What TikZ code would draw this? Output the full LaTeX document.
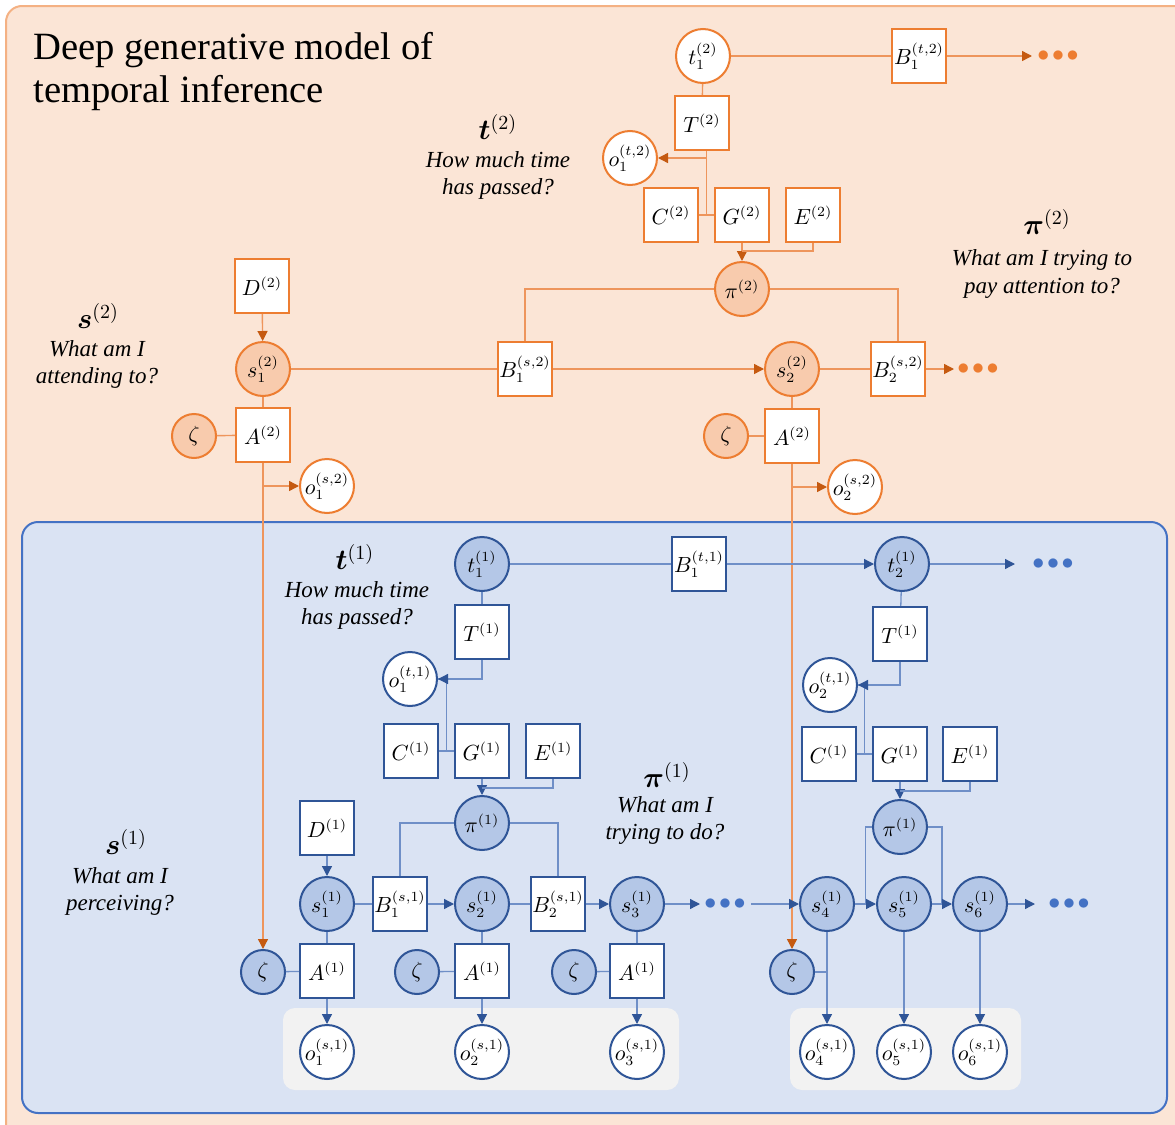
\documentclass[tikz,border=0pt]{standalone}
\usepackage{amsmath,amssymb}
\usepackage{fontspec}
\setmainfont{Liberation Serif}
\usepackage{tikz}
\usetikzlibrary{arrows.meta,calc,positioning}

\definecolor{pagetwo}{HTML}{FBE5D6}
\definecolor{frametwo}{HTML}{F4B183}
\definecolor{edgetwo}{HTML}{ED7D31}
\definecolor{filltwo}{HTML}{F8CBAD}
\definecolor{linktwo}{HTML}{EE955C}
\definecolor{tiptwo}{HTML}{C55A11}
\definecolor{pageone}{HTML}{DAE3F3}
\definecolor{frameone}{HTML}{4472C4}
\definecolor{edgeone}{HTML}{2F5597}
\definecolor{fillone}{HTML}{B4C7E7}
\definecolor{linkone}{HTML}{6F8FC7}
\definecolor{panel}{HTML}{F2F2F2}

\newcommand{\moredots}{${\bullet}\mkern2mu{\bullet}\mkern2mu{\bullet}$}

\begin{document}
\begin{tikzpicture}[
    x=0.5pt, y=-0.5pt,
    lbl/.style={font=\fontsize{10.5}{12}\selectfont, inner sep=0},
    boxtwo/.style={rectangle, draw=edgetwo, fill=white, line width=1pt, minimum size=27pt, lbl},
    vartwo/.style={circle, draw=edgetwo, fill=filltwo, line width=1pt, minimum size=27pt, lbl},
    obstwo/.style={vartwo, fill=white},
    zetatwo/.style={vartwo, minimum size=22pt},
    boxone/.style={rectangle, draw=edgeone, fill=white, line width=1pt, minimum size=27pt, lbl},
    varone/.style={circle, draw=edgeone, fill=fillone, line width=1pt, minimum size=27pt, lbl},
    obsone/.style={varone, fill=white},
    zetaone/.style={varone, minimum size=22pt},
    wiretwo/.style={draw=linktwo, line width=0.7pt},
    flowtwo/.style={wiretwo, -{Triangle[length=5pt, width=5pt, color=tiptwo]}},
    wireone/.style={draw=linkone, line width=0.65pt},
    flowone/.style={wireone, -{Triangle[length=5pt, width=5pt, color=edgeone]}},
    head/.style={font=\fontsize{14}{15}\selectfont, inner sep=0},
    ask/.style={font=\fontsize{11.5}{13.5}\selectfont\itshape, align=center, inner sep=0},
    moretwo/.style={font=\fontsize{13}{13}\selectfont, text=edgetwo, inner sep=0},
    moreone/.style={font=\fontsize{13}{13}\selectfont, text=frameone, inner sep=0}]

\useasboundingbox (0,0) rectangle (1175,1125);
\path[fill=pagetwo, draw=frametwo, line width=1pt, rounded corners=8pt] (6,6) rectangle (1200,1150);
\path[fill=pageone, draw=frameone, line width=1pt, rounded corners=8pt] (22,522) rectangle (1167,1113);
\path[fill=panel, rounded corners=6pt] (283,1008) rectangle (679,1090);
\path[fill=panel, rounded corners=6pt] (790,1008) rectangle (1021,1090);

\node[anchor=north west, align=left, inner sep=0, font=\fontsize{19.3}{21.5}\selectfont] (title) at (33,32) {Deep generative model of\\temporal inference};

\node[head] (hdt2) at (498,127) {$\boldsymbol{t}^{(2)}$};
\node[ask] (askt2) at (498,175) {How much time\\has passed?};
\node[head] (hdpi2) at (1047,222) {$\boldsymbol{\pi}^{(2)}$};
\node[ask] (askpi2) at (1042,274) {What am I trying to\\pay attention to?};
\node[head] (hds2) at (98,316) {$\boldsymbol{s}^{(2)}$};
\node[ask] (asks2) at (97,364) {What am I\\attending to?};
\node[head] (hdt1) at (355,557) {$\boldsymbol{t}^{(1)}$};
\node[ask] (askt1) at (357,605) {How much time\\has passed?};
\node[head] (hdpi1) at (667,775) {$\boldsymbol{\pi}^{(1)}$};
\node[ask] (askpi1) at (665,820) {What am I\\trying to do?};
\node[head] (hds1) at (126,842) {$\boldsymbol{s}^{(1)}$};
\node[ask] (asks1) at (120,891) {What am I\\perceiving?};

% level 2
\node[obstwo] (t12) at (703,56) {$t_1^{(2)}$};
\node[boxtwo] (B1t2) at (919,56) {$B_1^{(t,2)}$};
\coordinate (endt2) at (1032,56);
\node[moretwo] (moret2) at (1058,56) {\moredots};
\node[boxtwo] (T2) at (702,123) {$T^{(2)}$};
\node[obstwo] (o1t2) at (630,158) {$o_1^{(t,2)}$};
\node[boxtwo] (C2) at (671,215) {$C^{(2)}$};
\node[boxtwo] (G2) at (742,215) {$G^{(2)}$};
\node[boxtwo] (E2) at (813,215) {$E^{(2)}$};
\node[vartwo] (pi2) at (742,289) {$\pi^{(2)}$};
\node[boxtwo] (D2) at (262,286) {$D^{(2)}$};
\node[vartwo] (s12) at (263,369) {$s_1^{(2)}$};
\node[boxtwo] (B1s2) at (525,369) {$B_1^{(s,2)}$};
\node[vartwo] (s22) at (792,369) {$s_2^{(2)}$};
\node[boxtwo] (B2s2) at (898,369) {$B_2^{(s,2)}$};
\coordinate (ends2) at (954,369);
\node[moretwo] (mores2) at (978,369) {\moredots};
\node[boxtwo] (A12) at (263,435) {$A^{(2)}$};
\node[zetatwo] (z12) at (194,436) {$\zeta$};
\node[obstwo] (o1s2) at (327,486) {$o_1^{(s,2)}$};
\node[boxtwo] (A22) at (792,436) {$A^{(2)}$};
\node[zetatwo] (z22) at (726,436) {$\zeta$};
\node[obstwo] (o2s2) at (855,487) {$o_2^{(s,2)}$};

% level 1
\node[varone] (t11) at (482,564) {$t_1^{(1)}$};
\node[boxone] (B1t1) at (699,564) {$B_1^{(t,1)}$};
\node[varone] (t21) at (902,564) {$t_2^{(1)}$};
\coordinate (endt1) at (1015,564);
\node[moreone] (moret1) at (1053,564) {\moredots};
\node[boxone] (T11) at (482,632) {$T^{(1)}$};
\node[boxone] (T21) at (900,634) {$T^{(1)}$};
\node[obsone] (o1t1) at (410,679) {$o_1^{(t,1)}$};
\node[obsone] (o2t1) at (830,685) {$o_2^{(t,1)}$};
\node[boxone] (C11) at (411,751) {$C^{(1)}$};
\node[boxone] (G11) at (482,751) {$G^{(1)}$};
\node[boxone] (E11) at (553,751) {$E^{(1)}$};
\node[boxone] (C21) at (829,754) {$C^{(1)}$};
\node[boxone] (G21) at (900,754) {$G^{(1)}$};
\node[boxone] (E21) at (970,754) {$E^{(1)}$};
\node[varone] (pi11) at (482,823) {$\pi^{(1)}$};
\node[varone] (pi21) at (900,827) {$\pi^{(1)}$};
\node[boxone] (D1) at (327,828) {$D^{(1)}$};
\node[varone] (s11) at (327,904) {$s_1^{(1)}$};
\node[boxone] (B1s1) at (400,904) {$B_1^{(s,1)}$};
\node[varone] (s21) at (482,904) {$s_2^{(1)}$};
\node[boxone] (B2s1) at (558,904) {$B_2^{(s,1)}$};
\node[varone] (s31) at (637,904) {$s_3^{(1)}$};
\coordinate (ends31) at (700,904);
\node[moreone] (mores31) at (725,904) {\moredots};
\coordinate (begs41) at (751,904);
\node[varone] (s41) at (827,904) {$s_4^{(1)}$};
\node[varone] (s51) at (904,904) {$s_5^{(1)}$};
\node[varone] (s61) at (980,904) {$s_6^{(1)}$};
\coordinate (ends61) at (1035,904);
\node[moreone] (mores61) at (1069,904) {\moredots};
\node[boxone] (A11) at (327,971) {$A^{(1)}$};
\node[boxone] (A21) at (482,971) {$A^{(1)}$};
\node[boxone] (A31) at (637,971) {$A^{(1)}$};
\node[zetaone] (z11) at (263,972) {$\zeta$};
\node[zetaone] (z21) at (417,972) {$\zeta$};
\node[zetaone] (z31) at (574,972) {$\zeta$};
\node[zetaone] (z41) at (792,972) {$\zeta$};
\node[obsone] (o1s1) at (327,1052) {$o_1^{(s,1)}$};
\node[obsone] (o2s1) at (482,1052) {$o_2^{(s,1)}$};
\node[obsone] (o3s1) at (637,1052) {$o_3^{(s,1)}$};
\node[obsone] (o4s1) at (827,1052) {$o_4^{(s,1)}$};
\node[obsone] (o5s1) at (904,1052) {$o_5^{(s,1)}$};
\node[obsone] (o6s1) at (980,1052) {$o_6^{(s,1)}$};

\coordinate (cg2) at ($(C2.east)!0.5!(G2.west)$);
\coordinate (cg11) at ($(C11.east)!0.5!(G11.west)$);
\coordinate (cg21) at ($(C21.east)!0.5!(G21.west)$);
\coordinate (m45) at ($(s41.east)!0.5!(s51.west)$);
\coordinate (m56) at ($(s51.east)!0.5!(s61.west)$);

\path[wiretwo] (t12) -- (B1t2);
\path[flowtwo] (B1t2) -- (endt2);
\path[wiretwo] (t12) -- (T2);
\path[wiretwo] (C2) -- (G2);
\path[wiretwo] (cg2) -- (cg2 |- T2.south);
\path[flowtwo] (cg2 |- o1t2) -- (o1t2);
\path[flowtwo] (G2) -- (pi2);
\path[wiretwo] (E2.south) |- ([yshift=-4pt]G2.south);
\path[wiretwo] (pi2.west) -| (B1s2.north);
\path[wiretwo] (pi2.east) -| (B2s2.north);
\path[flowtwo] (D2) -- (s12);
\path[wiretwo] (s12) -- (B1s2);
\path[flowtwo] (B1s2) -- (s22);
\path[wiretwo] (s22) -- (B2s2);
\path[flowtwo] (B2s2) -- (ends2);
\path[wiretwo] (s12) -- (A12);
\path[wiretwo] (z12) -- (A12);
\path[wiretwo] (s22) -- (A22);
\path[wiretwo] (z22) -- (A22);
\path[flowtwo] (o1s2.west -| A12.south) -- (o1s2);
\path[flowtwo] (o2s2.west -| A22.south) -- (o2s2);
\path[flowtwo] (A12.south) -- (z11.north);
\path[flowtwo] (A22.south) -- (z41.north);

\path[wireone] (t11) -- (B1t1);
\path[flowone] (B1t1) -- (t21);
\path[flowone] (t21) -- (endt1);
\path[wireone] (t11) -- (T11);
\path[wireone] (t21) -- (T21);
\path[wireone] (C11) -- (G11);
\path[wireone] (C21) -- (G21);
\path[wireone] (cg11) |- (o1t1.east);
\path[wireone] (cg21) |- (o2t1.east);
\path[flowone] (T11.south) |- (o1t1.east);
\path[flowone] (T21.south) |- (o2t1.east);
\path[flowone] (G11) -- (pi11);
\path[flowone] (G21) -- (pi21);
\path[wireone] (E11.south) |- ([yshift=-4.5pt]G11.south);
\path[wireone] (E21.south) |- ([yshift=-4.5pt]G21.south);
\path[wireone] (pi11.west) -| (B1s1.north);
\path[wireone] (pi11.east) -| (B2s1.north);
\path[wireone] (pi21.west) -| (m45);
\path[wireone] (pi21.east) -| (m56);
\path[flowone] (D1) -- (s11);
\path[wireone] (s11) -- (B1s1);
\path[flowone] (B1s1) -- (s21);
\path[wireone] (s21) -- (B2s1);
\path[flowone] (B2s1) -- (s31);
\path[flowone] (s31) -- (ends31);
\path[flowone] (begs41) -- (s41);
\path[flowone] (s41) -- (s51);
\path[flowone] (s51) -- (s61);
\path[flowone] (s61) -- (ends61);
\path[wireone] (s11) -- (A11);
\path[wireone] (s21) -- (A21);
\path[wireone] (s31) -- (A31);
\path[wireone] (z11) -- (A11);
\path[wireone] (z21) -- (A21);
\path[wireone] (z31) -- (A31);
\path[flowone] (A11) -- (o1s1);
\path[flowone] (A21) -- (o2s1);
\path[flowone] (A31) -- (o3s1);
\path[wireone] (z41) -- (z41 -| s41);
\path[flowone] (s41) -- (o4s1);
\path[flowone] (s51) -- (o5s1);
\path[flowone] (s61) -- (o6s1);

\end{tikzpicture}
\end{document}
